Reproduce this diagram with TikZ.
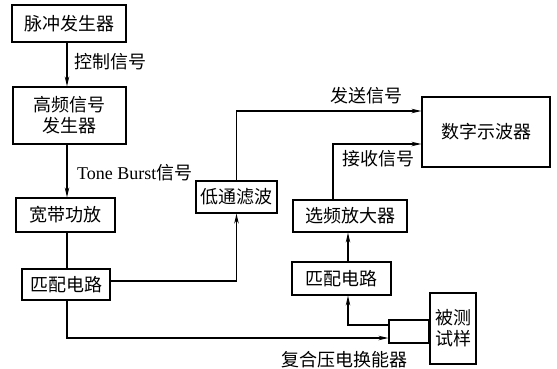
\documentclass[tikz,border=0pt]{standalone}
\usepackage{fontspec}
\setmainfont{Liberation Serif}
\newfontfamily\cjk{Noto Sans CJK SC}
\usetikzlibrary{arrows.meta}
\begin{document}
\begin{tikzpicture}[x=1pt,y=-1pt,
  every node/.style={font=\fontsize{18}{21}\selectfont\cjk, inner sep=0pt},
  blk/.style={draw, line width=1.2pt, align=center},
  lbl/.style={},
  arr/.style={line width=1.1pt, -{Stealth[length=10pt,width=4.5pt]}},
  ln/.style={line width=1.1pt}]
\useasboundingbox (0,0) rectangle (557,368);
\coordinate (cx) at (67,0);
\coordinate (ty) at (0,111);
\coordinate (ry) at (0,144);
\coordinate (xq) at (333,0);
\coordinate (xm) at (348,0);
\coordinate (ya) at (0,325);
\coordinate (yb) at (0,338);
\coordinate (y4) at (0,281);
\node[blk, minimum width=114pt, minimum height=37pt] (n1) at (69,23.5) {脉冲发生器};
\node[blk, minimum width=113pt, minimum height=57pt] (n2) at (69.5,115.5) {高频信号\\发生器};
\node[blk, minimum width=99pt, minimum height=34pt] (n3) at (65.5,215) {宽带功放};
\node[blk, minimum width=88pt, minimum height=31pt] (n4) at (66,284.5) {匹配电路};
\node[blk, minimum width=81pt, minimum height=32pt] (n5) at (236.5,197) {低通滤波};
\node[blk, minimum width=128pt, minimum height=70pt] (n6) at (486,132) {数字示波器};
\node[blk, minimum width=114pt, minimum height=32pt] (n7) at (350,216) {选频放大器};
\node[blk, minimum width=99pt, minimum height=33pt] (n8) at (341.5,278.5) {匹配电路};
\node[blk, minimum width=40pt, minimum height=23pt] (n9) at (409,331.5) {};
\node[blk, minimum width=46pt, minimum height=71pt] (n10) at (453,328.5) {被测\\试样};
\node[lbl, anchor=west] (l1) at (74,62) {控制信号};
\node[lbl, anchor=west] (l2) at (77,173) {{\fontspec{Liberation Serif}Tone Burst}信号};
\node[lbl] (l3) at (366,96) {发送信号};
\node[lbl] (l4) at (378,159) {接收信号};
\node[lbl] (l5) at (344,360) {复合压电换能器};
\draw[arr] (n1.south -| cx) -- (n2.north -| cx);
\draw[arr] (n2.south -| cx) -- (n3.north -| cx);
\draw[ln] (n3.south -| cx) -- (n4.north -| cx);
\draw[arr] (n4.east |- y4) -| (n5.south);
\draw[arr] (n5.north) |- (n6.west |- ty);
\draw[arr] (n7.north -| xq) |- (n6.west |- ry);
\draw[arr] (n8.north -| xm) -- (n7.south -| xm);
\draw[arr] (n9.west |- ya) -| (n8.south -| xm);
\draw[arr] (n4.south -| cx) |- (n9.west |- yb);
\end{tikzpicture}
\end{document}
